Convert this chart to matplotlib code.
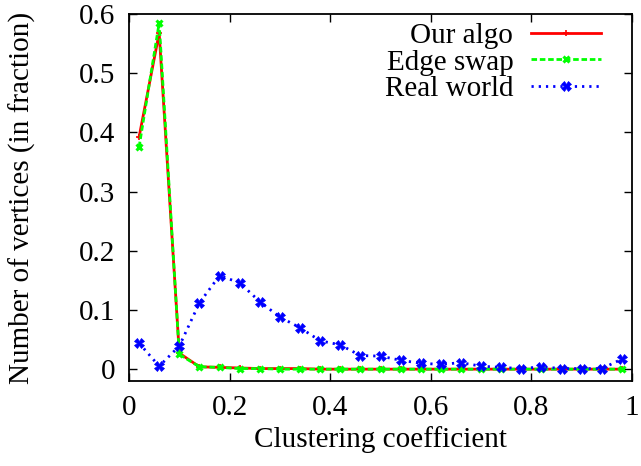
import numpy as np
import matplotlib
matplotlib.use("Agg")
import matplotlib.pyplot as plt

plt.rcParams['font.family'] = ['Liberation Serif', 'DejaVu Serif']

# clustering coefficient bins (centres)
cc = [0.02, 0.06, 0.10, 0.14, 0.18, 0.22, 0.26, 0.30, 0.34, 0.38, 0.42, 0.46, 0.50,
      0.54, 0.58, 0.62, 0.66, 0.70, 0.74, 0.78, 0.82, 0.86, 0.90, 0.94, 0.98]

our_algo = [0.392, 0.568, 0.027, 0.004, 0.003, 0.002, 0.001, 0.001, 0.001, 0.0, 0.0, 0.0, 0.0,
            0.0, 0.0, 0.0, 0.0, 0.0, 0.0, 0.0, 0.0, 0.0, 0.0, 0.0, 0.0]
edge_swap = [0.375, 0.585, 0.025, 0.004, 0.003, 0.001, 0.001, 0.0, 0.0, 0.0, 0.0, 0.0, 0.0,
             0.0, 0.0, 0.0, 0.0, 0.0, 0.0, 0.0, 0.0, 0.0, 0.0, 0.0, 0.0]
real_world = [0.044, 0.005, 0.039, 0.112, 0.158, 0.146, 0.114, 0.088, 0.070, 0.048, 0.041, 0.023, 0.022,
              0.015, 0.010, 0.008, 0.011, 0.005, 0.003, 0.001, 0.004, 0.001, 0.001, 0.001, 0.017]

fig = plt.figure(figsize=(6.41, 4.66), dpi=100)
ax = fig.add_axes([129/641, 1 - 381/466, (632-129)/641, (381-14)/466])

ax.plot(cc, our_algo, color='#ff0000', lw=2, ls='-', marker='+', ms=4, mew=1.2, label='Our algo')
ax.plot(cc, edge_swap, color='#00ff00', lw=2, ls=(0, (2.0, 1.0)), marker='x', ms=5, mew=2.2, label='Edge swap')
ax.plot(cc, real_world, color='#0000ff', lw=2, ls=(0, (0.8, 1.8)), marker='X', ms=6.5, mew=0.5, label='Real world')

ax.set_xlim(0, 1)
ax.set_ylim(-0.02, 0.6)
ax.set_xticks([0, 0.2, 0.4, 0.6, 0.8, 1])
ax.set_xticklabels(['0', '0.2', '0.4', '0.6', '0.8', '1'])
ax.set_yticks([0, 0.1, 0.2, 0.3, 0.4, 0.5, 0.6])
ax.set_yticklabels(['0', '0.1', '0.2', '0.3', '0.4', '0.5', '0.6'])
ax.tick_params(direction='in', top=True, right=True, length=6, width=1, labelsize=21, pad=10)
for s in ax.spines.values():
    s.set_linewidth(1.3)

ax.set_xlabel('Clustering coefficient', fontsize=21, labelpad=4)
ax.set_ylabel('Number of vertices (in fraction)', fontsize=21, labelpad=31)

ax.legend(loc='upper right', bbox_to_anchor=(0.938, 0.976), frameon=False, markerfirst=False,
          fontsize=21, handlelength=2.4, handletextpad=0.6, labelspacing=0.0,
          borderaxespad=0, borderpad=0)

fig.savefig('out.png', dpi=100)
